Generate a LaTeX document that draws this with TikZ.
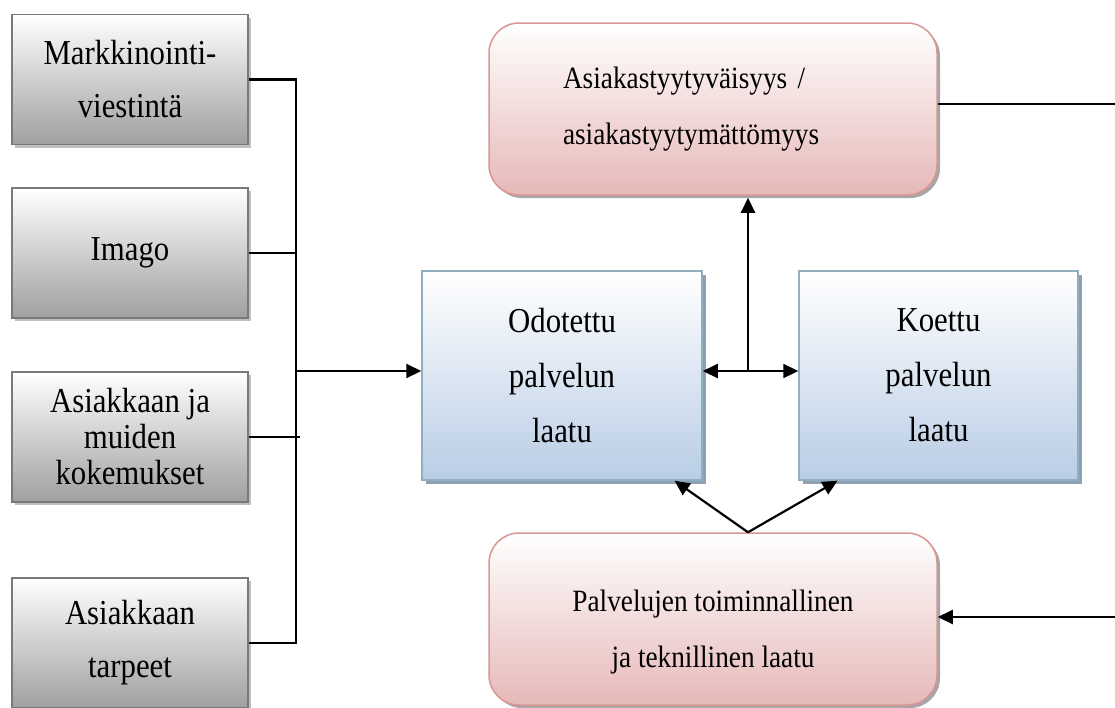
\documentclass[tikz,border=0pt]{standalone}
\usepackage{fontspec}
\setmainfont{Liberation Serif}[FakeStretch=0.88]
\usetikzlibrary{arrows.meta,shadows,calc}

\begin{document}
\begin{tikzpicture}[x=1pt,y=-1pt,
    harmaa/.style={rectangle,draw=gray!95!black,line width=1.5pt,
        top color=white,bottom color=gray!75,
        drop shadow={shadow xshift=3pt,shadow yshift=-3pt,fill=gray!50,opacity=1},
        minimum width=236pt,minimum height=130pt,align=center,
        font=\fontsize{35}{53}\selectfont},
    sininen/.style={rectangle,draw=blue!30!cyan!25!gray!70,line width=1.5pt,
        top color=white,bottom color={rgb,255:red,185;green,205;blue,229},
        drop shadow={shadow xshift=4pt,shadow yshift=-4pt,fill={rgb,255:red,143;green,160;blue,181},opacity=1},
        minimum width=280pt,minimum height=209pt,align=center,
        font=\fontsize{35}{55}\selectfont},
    punainen/.style={rectangle,rounded corners=30pt,line width=1.5pt,
        draw={rgb,255:red,217;green,150;blue,148},
        top color=white,bottom color={rgb,255:red,230;green,185;blue,184},
        drop shadow={shadow xshift=3pt,shadow yshift=-3pt,fill=gray!70,opacity=1},
        minimum width=448pt,minimum height=172pt,
        font=\fontsize{31}{56}\selectfont},
    viiva/.style={line width=2.2pt},
    nuoli/.style={line width=2.2pt,-{Triangle[length=15pt,width=14pt]}}]

    \useasboundingbox (0,0) rectangle (1115,707);

    % Vasemman reunan laatikot
    \node[harmaa] (mv) at (130,79.5) {Markkinointi-\\viestintä};
    \node[harmaa] (imago) at (130,253) {Imago};
    \node[harmaa,font=\fontsize{35}{36}\selectfont] (kok) at (130,437) {Asiakkaan ja\\muiden\\kokemukset};
    \node[harmaa] (tarve) at (130,643) {Asiakkaan\\tarpeet};

    % Palvelun laatu
    \node[sininen] (odo) at (562,375.5) {Odotettu\\palvelun\\laatu};
    \node[sininen,minimum width=279pt] (koe) at (938.5,375.5) {Koettu\\palvelun\\laatu};

    % Pyöristetyt laatikot
    \node[punainen,align=left,text width=300pt,inner xsep=74pt] (tyyt) at (713,109)
        {Asiakastyytyväisyys /\\asiakastyytymättömyys};
    \node[punainen,align=center] (palv) at (713,619)
        {\\[-8pt]Palvelujen toiminnallinen\\ja teknillinen laatu};

    % Kokoojaviiva
    \coordinate (bus) at (296,371);
    \coordinate (hub) at (748,371);
    \coordinate (reuna) at (1115,0);
    \draw[viiva] (mv.east) -- (mv.east -| bus) -- (tarve.east -| bus) -- (tarve.east);
    \draw[viiva] (imago.east) -- (imago.east -| bus);
    \draw[viiva] (kok.east) -- ++(51,0);
    \draw[nuoli] (bus) -- (odo.west |- bus);

    % Odotettu / koettu
    \draw[nuoli] (hub) -- (odo.east |- hub);
    \draw[nuoli] (hub) -- (koe.west |- hub);
    \draw[nuoli] (hub) -- ($(tyyt.south -| hub)+(0,2)$);

    % Oikean reunan viivat
    \draw[viiva] (tyyt.east) ++(0,-5) -- ($(tyyt.east -| reuna)+(0,-5)$);
    \draw[nuoli] ($(palv.east -| reuna)+(0,-2)$) -- ($(palv.east)+(0,-2)$);

    % V-nuolet
    \draw[nuoli] (palv.north -| hub) -- ($(odo.south east)!0.1!(odo.south west)$);
    \draw[nuoli] (palv.north -| hub) -- ($(koe.south west)!0.14!(koe.south east)$);
\end{tikzpicture}
\end{document}
